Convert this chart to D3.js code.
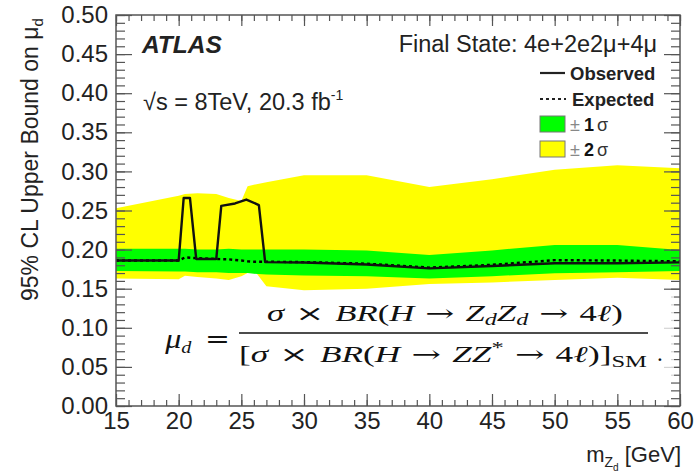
<!DOCTYPE html>
<html>
<head>
<meta charset="utf-8">
<script src="https://cdn.jsdelivr.net/npm/d3@7"></script>
<style>
  html, body { margin: 0; padding: 0; background: #fff; }
  svg { display: block; }
  text { font-family: "Liberation Sans", Arial, Helvetica, sans-serif; fill: #222; }
  .math { font-family: "Liberation Serif", "DejaVu Serif", serif; fill: #111; }
  .sym { font-family: "DejaVu Serif", serif; font-style: normal; }
</style>
</head>
<body>
<svg id="chart" width="698" height="474"></svg>
<script>
// Dark-boson mass points (GeV) on which the expected limit and its bands are given
const massGrid      = [15, 20, 20.5, 21.5, 23, 24, 25, 25.5, 26, 27, 30, 35, 40, 45, 50, 55, 60];
const expectedLimit = [0.186, 0.186, 0.190, 0.189, 0.188, 0.1875, 0.186, 0.185, 0.1845, 0.1845, 0.184, 0.182, 0.177, 0.1805, 0.1865, 0.186, 0.185];
const band1Up       = [0.201, 0.201, 0.201, 0.200, 0.200, 0.201, 0.200, 0.200, 0.200, 0.200, 0.200, 0.199, 0.193, 0.199, 0.206, 0.206, 0.1995];
const band1Down     = [0.1726, 0.172, 0.172, 0.171, 0.171, 0.170, 0.170, 0.170, 0.169, 0.168, 0.167, 0.166, 0.163, 0.166, 0.1697, 0.171, 0.1726];
const band2Up       = [0.253, 0.269, 0.271, 0.272, 0.271, 0.266, 0.262, 0.281, 0.283, 0.286, 0.295, 0.295, 0.280, 0.290, 0.302, 0.308, 0.304];
const band2Down     = [0.163, 0.162, 0.1666, 0.165, 0.163, 0.161, 0.166, 0.170, 0.174, 0.153, 0.148, 0.150, 0.156, 0.158, 0.161, 0.164, 0.161];

// Observed limit, sampled more finely where it jumps
const observedMass  = [15, 20, 20.4, 20.9, 21.4, 23.0, 23.4, 24.5, 25.4, 26.4, 26.9, 30, 35, 40, 45, 50, 55, 60];
const observedLimit = [0.186, 0.186, 0.266, 0.266, 0.188, 0.188, 0.256, 0.259, 0.264, 0.257, 0.184, 0.1835, 0.181, 0.176, 0.179, 0.1825, 0.1825, 0.1837];

// Axis ticks
const xTicks = [15, 20, 25, 30, 35, 40, 45, 50, 55, 60];
const xTickLabels = ["15", "20", "25", "30", "35", "40", "45", "50", "55", "60"];
const yTicks = [0, 0.05, 0.10, 0.15, 0.20, 0.25, 0.30, 0.35, 0.40, 0.45, 0.50];
const yTickLabels = ["0.00", "0.05", "0.10", "0.15", "0.20", "0.25", "0.30", "0.35", "0.40", "0.45", "0.50"];

const svg = d3.select("#chart");
const W = 698, H = 474;
const frame = { left: 116, right: 680, top: 15, bottom: 406 };

svg.append("rect").attr("width", W).attr("height", H).attr("fill", "#fff");

const x = d3.scaleLinear().domain([15, 60]).range([frame.left, frame.right]);
const y = d3.scaleLinear().domain([0, 0.5]).range([frame.bottom, frame.top]);

const gridRows = massGrid.map((m, i) => ({
  m, exp: expectedLimit[i], u1: band1Up[i], d1: band1Down[i], u2: band2Up[i], d2: band2Down[i]
}));
const obsRows = observedMass.map((m, i) => ({ m, v: observedLimit[i] }));

// +-2 sigma and +-1 sigma bands
svg.append("path")
  .datum(gridRows)
  .attr("fill", "#ffff00")
  .attr("d", d3.area().x(d => x(d.m)).y0(d => y(d.d2)).y1(d => y(d.u2)));
svg.append("path")
  .datum(gridRows)
  .attr("fill", "#00ff00")
  .attr("d", d3.area().x(d => x(d.m)).y0(d => y(d.d1)).y1(d => y(d.u1)));

// Expected (dashed) and observed (solid) limits
svg.append("path")
  .datum(gridRows)
  .attr("fill", "none")
  .attr("stroke", "#000")
  .attr("stroke-width", 2.4)
  .attr("stroke-dasharray", "3,3")
  .attr("d", d3.line().x(d => x(d.m)).y(d => y(d.exp)));
svg.append("path")
  .datum(obsRows)
  .attr("fill", "none")
  .attr("stroke", "#111")
  .attr("stroke-width", 2.4)
  .attr("stroke-linejoin", "round")
  .attr("d", d3.line().x(d => x(d.m)).y(d => y(d.v)));

// Axes: major + minor ticks drawn inward on all four sides
const axisColor = "#555";
function styleAxis(g) {
  g.select(".domain").remove();
  g.selectAll(".tick line").attr("stroke", axisColor).attr("stroke-width", 1.2);
  g.selectAll(".tick text").style("font-size", "24px").attr("fill", "#222");
}
const xMinor = d3.range(15, 60.001, 1);
const yMinor = d3.range(0, 51, 1).map(v => v / 100);

svg.append("g").attr("transform", `translate(0,${frame.bottom})`)
  .call(d3.axisBottom(x).tickValues(xMinor).tickSize(-6).tickFormat("")).call(styleAxis);
svg.append("g").attr("transform", `translate(0,${frame.bottom})`)
  .call(d3.axisBottom(x).tickValues(xTicks).tickSize(-12).tickPadding(6)
    .tickFormat((d, i) => xTickLabels[i])).call(styleAxis);
svg.append("g").attr("transform", `translate(0,${frame.top})`)
  .call(d3.axisTop(x).tickValues(xMinor).tickSize(-6).tickFormat("")).call(styleAxis);
svg.append("g").attr("transform", `translate(0,${frame.top})`)
  .call(d3.axisTop(x).tickValues(xTicks).tickSize(-11).tickFormat("")).call(styleAxis);

svg.append("g").attr("transform", `translate(${frame.left},0)`)
  .call(d3.axisLeft(y).tickValues(yMinor).tickSize(-9).tickFormat("")).call(styleAxis);
svg.append("g").attr("transform", `translate(${frame.left},0)`)
  .call(d3.axisLeft(y).tickValues(yTicks).tickSize(-16).tickPadding(8)
    .tickFormat((d, i) => yTickLabels[i])).call(styleAxis);
svg.append("g").attr("transform", `translate(${frame.right},0)`)
  .call(d3.axisRight(y).tickValues(yMinor).tickSize(-9).tickFormat("")).call(styleAxis);
svg.append("g").attr("transform", `translate(${frame.right},0)`)
  .call(d3.axisRight(y).tickValues(yTicks).tickSize(-16).tickFormat("")).call(styleAxis);

// Frame
svg.append("rect")
  .attr("x", frame.left).attr("y", frame.top)
  .attr("width", frame.right - frame.left).attr("height", frame.bottom - frame.top)
  .attr("fill", "none").attr("stroke", axisColor).attr("stroke-width", 1.5);

// Axis titles
const yTitle = svg.append("text")
  .attr("transform", "translate(38,301) rotate(-90)")
  .style("font-size", "23px");
yTitle.append("tspan").text("95% CL Upper Bound on μ");
yTitle.append("tspan").attr("dy", 5).style("font-size", "15px").text("d");

const xTitle = svg.append("text")
  .attr("x", 681).attr("y", 462).attr("text-anchor", "end")
  .style("font-size", "22px");
xTitle.append("tspan").text("m");
xTitle.append("tspan").attr("dy", 5).style("font-size", "14px").text("Z");
xTitle.append("tspan").attr("dy", 4).style("font-size", "10px").text("d");
xTitle.append("tspan").attr("dy", -9).text(" [GeV]");

// Experiment labels
svg.append("text").attr("x", 142).attr("y", 53)
  .style("font-size", "24.5px").style("font-weight", "bold").style("font-style", "italic")
  .attr("fill", "#000").text("ATLAS");
const lumi = svg.append("text").attr("x", 143).attr("y", 110).style("font-size", "23.5px");
lumi.append("tspan").text("√s = 8TeV, 20.3 fb");
lumi.append("tspan").attr("dy", -10).style("font-size", "14px").text("-1");

svg.append("text").attr("x", 657).attr("y", 52).attr("text-anchor", "end")
  .style("font-size", "23.5px").text("Final State: 4e+2e2μ+4μ");

// Legend
const legX = 540;
svg.append("line").attr("x1", legX).attr("x2", legX + 25).attr("y1", 73).attr("y2", 73)
  .attr("stroke", "#222").attr("stroke-width", 2.2);
svg.append("text").attr("x", 570).attr("y", 80)
  .style("font-size", "18.5px").style("font-weight", "bold").text("Observed");
svg.append("line").attr("x1", legX).attr("x2", legX + 26).attr("y1", 99).attr("y2", 99)
  .attr("stroke", "#222").attr("stroke-width", 2).attr("stroke-dasharray", "3,3");
svg.append("text").attr("x", 572).attr("y", 106)
  .style("font-size", "18.5px").style("font-weight", "bold").text("Expected");

[["#00ff00", 116, "1"], ["#ffff00", 141, "2"]].forEach(([col, top, n]) => {
  svg.append("rect").attr("x", legX).attr("y", top).attr("width", 25).attr("height", 16)
    .attr("fill", col).attr("stroke", "#777").attr("stroke-width", 1);
  const t = svg.append("text").attr("x", 570).attr("y", top + 15).style("font-size", "18px");
  t.append("tspan").attr("fill", "#888").text("±");
  t.append("tspan").attr("dx", 4).style("font-weight", "bold").attr("fill", "#111").text(n);
  t.append("tspan").attr("dx", 3).attr("fill", "#333").text("σ");
});

// Definition of the signal strength, typeset line by line and widened to its box
svg.append("rect").attr("x", 156).attr("y", 293).attr("width", 518).attr("height", 84)
  .attr("fill", "#fff").attr("fill-opacity", 0.75);

const mathSize = "23px";
const subSize = "16px";
function mathLine(x0, baseline, width, pieces, size) {
  const g = svg.append("g");
  const t = g.append("text").attr("class", "math").style("font-size", size || mathSize);
  pieces.forEach(p => {
    const s = t.append("tspan").text(p.t);
    if (p.i) s.style("font-style", "italic");
    if (p.s) s.attr("class", "sym");
    if (p.dy) s.attr("dy", p.dy);
    if (p.fs) s.style("font-size", p.fs);
  });
  const bb = t.node().getBBox();
  const sx = width / bb.width;
  t.attr("x", -bb.x);
  g.attr("transform", `translate(${x0},${baseline}) scale(${sx},1)`);
}

mathLine(164, 348, 28, [
  { t: "μ", i: true }, { t: "d", i: true, dy: 5, fs: "17px" }
], "27px");
mathLine(205, 347, 25, [{ t: "=", s: true }], "24px");

mathLine(267, 321, 356, [
  { t: "σ", i: true }, { t: " × ", s: true }, { t: "BR", i: true }, { t: "(" }, { t: "H", i: true },
  { t: " → ", s: true }, { t: "Z", i: true }, { t: "d", i: true, dy: 4, fs: subSize },
  { t: "Z", i: true, dy: -4 }, { t: "d", i: true, dy: 4, fs: subSize },
  { t: " → ", dy: -4, s: true }, { t: "4" }, { t: "ℓ", i: true }, { t: ")" }
]);

svg.append("line").attr("x1", 239).attr("x2", 648).attr("y1", 333).attr("y2", 333)
  .attr("stroke", "#111").attr("stroke-width", 1.3);

mathLine(239, 362, 408, [
  { t: "[" }, { t: "σ", i: true }, { t: " × ", s: true }, { t: "BR", i: true }, { t: "(" }, { t: "H", i: true },
  { t: " → ", s: true }, { t: "ZZ", i: true }, { t: "*", dy: -9, fs: subSize },
  { t: " → ", dy: 9, s: true }, { t: "4" }, { t: "ℓ", i: true }, { t: ")]" }, { t: "SM", dy: 5, fs: subSize }
]);
svg.append("text").attr("class", "math").attr("x", 657).attr("y", 361)
  .style("font-size", mathSize).text(".");
</script>
</body>
</html>
